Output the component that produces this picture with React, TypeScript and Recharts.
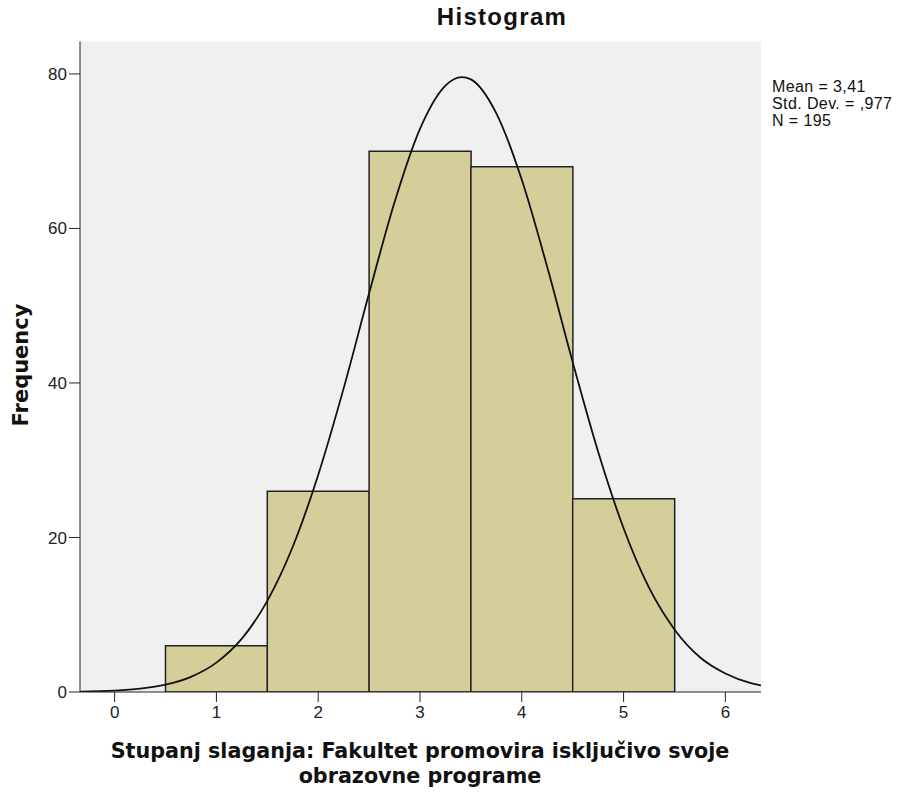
import { ComposedChart, Bar, Line, XAxis, YAxis, CartesianGrid, ReferenceArea } from 'recharts';

// histogram bins (centre of each bin) and their counts
const binCenters = [1, 2, 3, 4, 5];
const frequencies = [6, 26, 70, 68, 25];

// normal curve
const curveX = [-0.34, 0, 0.25, 0.5, 0.75, 1, 1.25, 1.5, 1.75, 2, 2.25, 2.5, 2.75, 3, 3.25, 3.41, 3.5, 3.75, 4, 4.25, 4.5, 4.75, 5, 5.25, 5.5, 5.75, 6, 6.25, 6.35];
const curveY = [0.05, 0.18, 0.43, 0.94, 1.96, 3.8, 6.9, 11.8, 18.8, 28.1, 39.3, 51.6, 63.4, 72.9, 78.5, 79.6, 79.3, 74.9, 66.3, 55.0, 42.7, 31.1, 21.2, 13.5, 8.1, 4.5, 2.4, 1.16, 0.86];

const xTicks = [0, 1, 2, 3, 4, 5, 6];
const yTicks = [0, 20, 40, 60, 80];

const statLines = ['Mean = 3,41', 'Std. Dev. = ,977', 'N = 195'];

const bins = binCenters.map((x, i) => ({ x, freq: frequencies[i] }));
const curve = curveX.map((x, i) => ({ x, curve: curveY[i] }));

const font = '"Liberation Sans", Arial, sans-serif';
const labelFont = '"DejaVu Sans", Verdana, sans-serif';
const xDomain: [number, number] = [-0.34, 6.35];

export default function App() {
  return (
    <div style={{ position: 'absolute', left: 0, top: 0, width: 902, height: 794, background: '#fff', fontFamily: font }}>
      <ComposedChart
        width={902}
        height={794}
        data={bins}
        barCategoryGap={0}
        barGap={0}
        margin={{ top: 41.5, right: 141, left: 30, bottom: 72 }}
      >
        <CartesianGrid fill="#f0f0f0" horizontal={false} vertical={false} />
        <XAxis xAxisId="bins" dataKey="x" type="number" domain={xDomain} allowDataOverflow hide height={0} />
        <XAxis
          xAxisId="curve"
          dataKey="x"
          type="number"
          domain={xDomain}
          allowDataOverflow
          ticks={xTicks}
          height={30}
          tickSize={10}
          tickMargin={4}
          stroke="#222"
          tick={{ fill: '#222', fontSize: 17, fontFamily: font }}
        />
        <YAxis
          type="number"
          domain={[0, 84.2]}
          allowDataOverflow
          ticks={yTicks}
          width={50}
          tickSize={11}
          tickMargin={2}
          stroke="#222"
          tick={{ fill: '#222', fontSize: 17, fontFamily: font }}
        />
        <Bar xAxisId="bins" dataKey="freq" fill="#d3ce9a" stroke="#222" strokeWidth={1.5} isAnimationActive={false} />
        <Line xAxisId="curve" data={curve} dataKey="curve" type="monotone" stroke="#111" strokeWidth={1.8} dot={false} activeDot={false} isAnimationActive={false} />
        <ReferenceArea xAxisId="curve" fill="none" stroke="#333" strokeWidth={1.8} />
      </ComposedChart>

      <div style={{ position: 'absolute', left: 0, width: 1004, top: 3, textAlign: 'center', fontSize: 24, letterSpacing: 1.3, fontWeight: 'bold', color: '#111' }}>
        Histogram
      </div>
      <div style={{ position: 'absolute', left: 772, top: 78, fontSize: 16, letterSpacing: 0.4, lineHeight: '17px', color: '#111' }}>
        {statLines.map((s) => (
          <div key={s}>{s}</div>
        ))}
      </div>
      <div
        style={{
          position: 'absolute',
          left: 21,
          top: 365,
          transform: 'translate(-50%, -50%) rotate(-90deg)',
          fontFamily: labelFont,
          fontSize: 21,
          fontWeight: 'bold',
          color: '#111',
          whiteSpace: 'nowrap',
        }}
      >
        Frequency
      </div>
      <div
        style={{
          position: 'absolute',
          left: 70,
          width: 700,
          top: 739,
          textAlign: 'center',
          fontFamily: labelFont,
          fontSize: 20.7,
          lineHeight: '25px',
          fontWeight: 'bold',
          color: '#111',
        }}
      >
        Stupanj slaganja: Fakultet promovira isključivo svoje
        <br />
        obrazovne programe
      </div>
    </div>
  );
}
